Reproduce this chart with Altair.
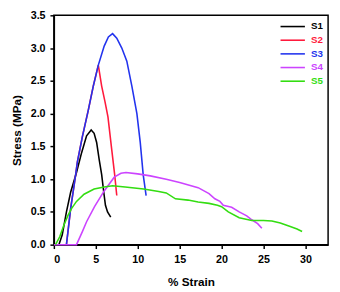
import altair as alt
import pandas as pd

series = ["S1", "S2", "S3", "S4", "S5"]
colors = ["#000000", "#ff1a3c", "#2233ee", "#cc44ff", "#33dd11"]

s1_x = [0.6, 1.0, 1.5, 2.0, 2.7, 3.3, 3.9, 4.45, 4.8, 5.1, 5.4, 5.7, 5.95, 6.15, 6.4, 6.78]
s1_y = [0.0, 0.15, 0.5, 0.8, 1.1, 1.4, 1.66, 1.75, 1.7, 1.56, 1.3, 1.07, 0.8, 0.6, 0.5, 0.42]

s2_x = [1.5, 2.0, 2.6, 2.8, 3.4, 4.1, 4.7, 5.3, 5.7, 6.1, 6.45, 6.9, 7.25, 7.5]
s2_y = [0.0, 0.55, 1.07, 1.26, 1.65, 2.05, 2.42, 2.74, 2.42, 2.18, 1.95, 1.45, 1.07, 0.75]

s3_x = [1.5, 2.0, 2.6, 2.8, 3.4, 4.1, 4.7, 5.3, 6.0, 6.5, 7.0, 7.5, 8.1, 8.7, 9.3, 9.9, 10.3, 10.65, 11.0]
s3_y = [0.0, 0.55, 1.07, 1.26, 1.65, 2.05, 2.42, 2.74, 3.03, 3.17, 3.22, 3.15, 3.0, 2.8, 2.42, 2.0, 1.56, 1.07, 0.75]

s4_x = [0.0, 2.7, 3.4, 3.9, 4.85, 6.0, 7.2, 8.0, 8.6, 10.0, 11.5, 13.4, 15.0, 17.2, 18.5,
        19.2, 19.8, 20.2, 21.2, 22.1, 23.0, 23.6, 24.3, 24.8]
s4_y = [0.0, 0.0, 0.2, 0.35, 0.58, 0.82, 1.03, 1.09, 1.10, 1.08, 1.05, 1.0, 0.95, 0.87, 0.78,
        0.70, 0.66, 0.60, 0.57, 0.50, 0.44, 0.38, 0.32, 0.25]

s5_x = [0.2, 0.7, 1.2, 1.7, 2.1, 2.7, 3.6, 4.8, 6.0, 7.0, 8.5, 10.7, 12.5, 13.4, 14.5, 16.0,
        17.2, 18.5, 19.5, 20.0, 20.8, 22.1, 23.6, 25.0, 26.0, 27.0, 28.1, 29.0, 29.6]
s5_y = [0.0, 0.12, 0.3, 0.45, 0.55, 0.66, 0.77, 0.85, 0.88, 0.90, 0.88, 0.85, 0.81, 0.79, 0.70, 0.68,
        0.65, 0.63, 0.60, 0.58, 0.50, 0.41, 0.37, 0.37, 0.36, 0.33, 0.28, 0.24, 0.20]

x_ticks = [0, 5, 10, 15, 20, 25, 30]
y_ticks = [0.0, 0.5, 1.0, 1.5, 2.0, 2.5, 3.0, 3.5]

rows = []
for name, xs, ys in zip(series, [s1_x, s2_x, s3_x, s4_x, s5_x], [s1_y, s2_y, s3_y, s4_y, s5_y]):
    for i, (x, y) in enumerate(zip(xs, ys)):
        rows.append({"series": name, "strain": x, "stress": y, "i": i})
df = pd.DataFrame(rows)

FONT = "Liberation Sans"

chart = alt.Chart(df).mark_line(strokeWidth=1.6).encode(
    x=alt.X("strain:Q",
            scale=alt.Scale(domain=[0, 32.7], nice=False, zero=True),
            axis=alt.Axis(values=x_ticks, title="% Strain", labelPadding=5, titlePadding=13)),
    y=alt.Y("stress:Q",
            scale=alt.Scale(domain=[0, 3.5], nice=False),
            axis=alt.Axis(values=y_ticks, format=".1f", title="Stress (MPa)",
                          labelPadding=5, titlePadding=7)),
    color=alt.Color("series:N",
                    scale=alt.Scale(domain=series, range=colors),
                    legend=alt.Legend(title=None, orient="none", legendX=231, legendY=4,
                                      padding=0,
                                      symbolType="M-1,0H3", symbolSize=156, symbolStrokeWidth=1.6,
                                      labelFont=FONT, labelFontWeight="bold", labelFontSize=10,
                                      labelColor=alt.ExprRef("scale('color', datum.value)"),
                                      labelOffset=17.5, rowPadding=1)),
    order="i:Q",
).properties(
    width=281, height=235,
    autosize=alt.AutoSizeParams(type="none"),
    padding={"left": 47, "top": 4, "right": 4, "bottom": 45},
).configure_view(
    stroke="black", strokeWidth=1.5
).configure_axis(
    grid=False,
    domainColor="black", domainWidth=1.5,
    tickColor="black", tickWidth=1.5, tickSize=4,
    labelFont=FONT, labelFontWeight="bold", labelFontSize=11, labelColor="black",
    titleFont=FONT, titleFontWeight="bold", titleFontSize=12, titleColor="black",
)

chart.save("out.html", embed_options={"renderer": "svg", "actions": False})
